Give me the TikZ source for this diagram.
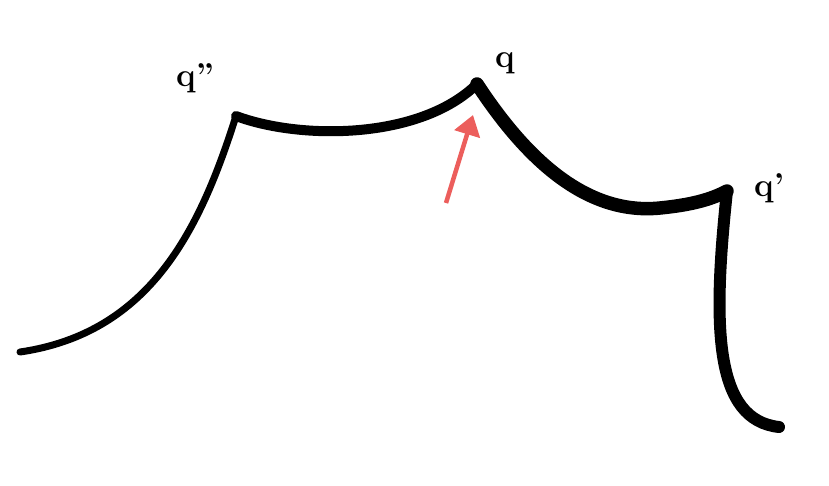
\documentclass[tikz,border=0pt]{standalone}
\usepackage{fontspec}
\usetikzlibrary{arrows.meta}
\definecolor{arrowred}{HTML}{EC5E5C}
\tikzset{
  stroke/.style={line cap=round, line join=round, black},
  lab/.style={anchor=base west, inner sep=0pt, font=\fontsize{33}{37}\selectfont\bfseries},
}
\begin{document}
\begin{tikzpicture}[x=1pt,y=-1pt]
\useasboundingbox (0,0) rectangle (829,485);
\coordinate (start) at (20,352);
\coordinate (c2) at (236,116);
\coordinate (peak) at (477,84);
\coordinate (c1) at (727,191);
\coordinate (finish) at (779,427);
% left rising curve
\draw[stroke, line width=7pt] (start) .. controls (150,333) and (200,230) .. (c2);
% top sagging arc
\draw[stroke, line width=10pt] (c2) .. controls (300,140) and (420,140) .. (peak);
% right descending arc
\draw[stroke, line width=13.5pt] (peak) .. controls (530,165) and (590,215) .. (660,208)
  .. controls (690,205) and (710,200) .. (c1);
% right vertical
\draw[stroke, line width=12pt] (c1) .. controls (712,330) and (715,420) .. (finish);
% red arrow
\coordinate (tail) at (446,203);
\coordinate (tip) at (473,115);
\draw[arrowred, line width=4.5pt, -{Triangle[length=20pt,width=26pt]}] (tail) -- (tip);
% labels
\node[lab] (q2) at (176,86) {q”};
\node[lab] (q) at (495,67) {q};
\node[lab] (q1) at (754,196) {q’};
\end{tikzpicture}
\end{document}
